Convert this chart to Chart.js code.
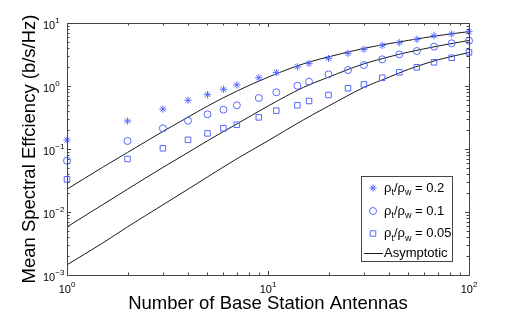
<!DOCTYPE html>
<html>
<head>
<meta charset="utf-8">
<script src="https://cdn.jsdelivr.net/npm/chart.js@4"></script>
<style>
  html, body { margin: 0; padding: 0; background: #fff; }
</style>
</head>
<body>
<canvas id="chart" width="518" height="314"></canvas>
<script>
// simulated points
const antennas = [1, 2, 3, 4, 5, 6, 7, 9, 11, 14, 16, 20, 25, 30, 37, 45, 55, 67, 82, 100];
const eff02  = [0.139, 0.278, 0.431, 0.593, 0.728, 0.886, 1.04, 1.35, 1.63, 2.02, 2.29, 2.75, 3.3, 3.82, 4.42, 4.87, 5.5, 6.28, 6.69, 7.28];
const eff01  = [0.0652, 0.134, 0.213, 0.281, 0.355, 0.421, 0.494, 0.645, 0.794, 1.01, 1.17, 1.53, 1.79, 2.15, 2.65, 3.18, 3.59, 4.21, 4.76, 5.24];
const eff005 = [0.033, 0.0694, 0.1026, 0.14, 0.177, 0.213, 0.243, 0.318, 0.406, 0.494, 0.578, 0.72, 0.92, 1.06, 1.35, 1.65, 1.98, 2.38, 2.81, 3.42];

// asymptotic curves
const asymX   = [1, 1.5, 2, 3, 4, 5, 7, 10, 15, 20, 30, 40, 50, 70, 100];
const asym02  = [0.023, 0.051, 0.088, 0.19, 0.32, 0.48, 0.83, 1.38, 2.25, 2.9, 3.95, 4.7, 5.3, 6.3, 7.3];
const asym01  = [0.0058, 0.013, 0.023, 0.051, 0.088, 0.135, 0.25, 0.48, 0.95, 1.38, 2.25, 2.9, 3.45, 4.3, 5.28];
const asym005 = [0.00145, 0.0032, 0.0058, 0.013, 0.023, 0.036, 0.07, 0.135, 0.29, 0.48, 0.95, 1.38, 1.84, 2.6, 3.4];

const ratios = ['0.2', '0.1', '0.05'];
const xTicks = [1, 10, 100];
const yTicks = [0.001, 0.01, 0.1, 1, 10];
const xTitle = 'Number of Base Station Antennas';
const yTitle = 'Mean Spectral Effciency (b/s/Hz)';

const blue = 'rgb(85,105,255)';
const FONT = '"Liberation Sans", Arial, Helvetica, sans-serif';

const pts = ys => antennas.map((x, i) => ({ x: x, y: ys[i] }));
const curve = ys => asymX.map((x, i) => ({ x: x, y: ys[i] }));

const markerSets = [
  { label: 'rho 0.2', data: pts(eff02), pointStyle: 'star', pointRadius: 3.6 },
  { label: 'rho 0.1', data: pts(eff01), pointStyle: 'circle', pointRadius: 3.5 },
  { label: 'rho 0.05', data: pts(eff005), pointStyle: 'rect', pointRadius: 3.9 }
].map(d => Object.assign(d, {
  borderColor: blue, backgroundColor: 'rgba(0,0,0,0)', borderWidth: 1,
  showLine: false, clip: false, pointHoverRadius: d.pointRadius
}));

const lineSets = [asym02, asym01, asym005].map(ys => ({
  label: 'Asymptotic',
  data: curve(ys),
  showLine: true,
  pointRadius: 0,
  borderColor: '#1a1a1a',
  borderWidth: 1,
  cubicInterpolationMode: 'monotone',
  fill: false,
  clip: false
}));

function powLabel(ctx, v, x, y, align) {
  const e = String(Math.round(Math.log10(v))).replace('-', '\u2212');
  ctx.font = '11px ' + FONT;
  const wb = ctx.measureText('10').width;
  ctx.font = '8px ' + FONT;
  const we = ctx.measureText(e).width;
  let x0 = align === 'center' ? x - (wb + we) / 2 : x;
  ctx.textAlign = 'left';
  ctx.textBaseline = 'alphabetic';
  ctx.font = '11px ' + FONT;
  ctx.fillText('10', x0, y);
  ctx.font = '8px ' + FONT;
  ctx.fillText(e, x0 + wb, y - 5.5);
}

const axesPlugin = {
  id: 'matlabAxes',
  afterDatasetsDraw(chart) {
    const { ctx, chartArea: a, scales } = chart;
    const sx = scales.x, sy = scales.y;
    ctx.save();
    ctx.strokeStyle = '#444';
    ctx.lineWidth = 1;
    ctx.strokeRect(a.left + 0.5, a.top + 0.5, a.right - a.left, a.bottom - a.top);

    ctx.beginPath();
    for (let d = 0; d < 2; d++) {
      for (let k = 1; k <= 9; k++) {
        const v = k * Math.pow(10, d);
        if (v <= 1 || v >= 100) continue;
        const px = Math.round(sx.getPixelForValue(v)) + 0.5;
        const len = k === 1 ? 4 : 2.5;
        ctx.moveTo(px, a.bottom); ctx.lineTo(px, a.bottom - len);
        ctx.moveTo(px, a.top); ctx.lineTo(px, a.top + len);
      }
    }
    for (let d = -3; d < 1; d++) {
      for (let k = 1; k <= 9; k++) {
        const v = k * Math.pow(10, d);
        if (v <= 0.001 || v >= 10) continue;
        const py = Math.round(sy.getPixelForValue(v)) + 0.5;
        const len = k === 1 ? 4 : 2.5;
        ctx.moveTo(a.left, py); ctx.lineTo(a.left + len, py);
        ctx.moveTo(a.right, py); ctx.lineTo(a.right - len, py);
      }
    }
    ctx.stroke();

    ctx.fillStyle = '#000';
    xTicks.forEach(v => powLabel(ctx, v, sx.getPixelForValue(v), a.bottom + 17.5, 'center'));
    yTicks.forEach(v => powLabel(ctx, v, a.left - 24, sy.getPixelForValue(v) + 5.5, 'left'));

    ctx.font = '18.5px ' + FONT;
    ctx.textAlign = 'center';
    ctx.textBaseline = 'alphabetic';
    ctx.fillText(xTitle, (a.left + a.right) / 2, 309);
    ctx.translate(34.5, (a.top + a.bottom) / 2);
    ctx.rotate(-Math.PI / 2);
    ctx.fillText(yTitle, 0, 0);
    ctx.restore();
  }
};

function legendMarker(ctx, style, r, x, y) {
  ctx.fillStyle = 'rgba(0,0,0,0)';
  ctx.strokeStyle = blue;
  ctx.lineWidth = 1;
  if (Chart.helpers && Chart.helpers.drawPoint) {
    Chart.helpers.drawPoint(ctx, { pointStyle: style, radius: r, borderWidth: 1, rotation: 0 }, x, y);
  }
}

function ratioText(ctx, value, x, y) {
  const parts = [['\u03c1', 13, 0], ['t', 9, 3.5], ['/\u03c1', 13, 0], ['w', 9, 3.5], [' = ' + value, 13, 0]];
  let cx = x;
  parts.forEach(p => {
    ctx.font = p[1] + 'px ' + FONT;
    ctx.fillText(p[0], cx, y + p[2]);
    cx += ctx.measureText(p[0]).width;
  });
}

const legendPlugin = {
  id: 'subLegend',
  afterDraw(chart) {
    const { ctx, chartArea: a } = chart;
    const right = a.right - 17, bottom = a.bottom - 14;
    const w = 91, h = 85;
    const left = right - w, top = bottom - h;
    ctx.save();
    ctx.fillStyle = '#fff';
    ctx.fillRect(left, top, w, h);
    ctx.strokeStyle = '#444';
    ctx.lineWidth = 1;
    ctx.strokeRect(left + 0.5, top + 0.5, w, h);

    const rowY = [12, 35, 57.5];
    markerSets.forEach((d, i) => {
      legendMarker(ctx, d.pointStyle, d.pointRadius, left + 12, top + rowY[i]);
      ctx.fillStyle = '#000';
      ctx.textAlign = 'left';
      ctx.textBaseline = 'alphabetic';
      ratioText(ctx, ratios[i], left + 23, top + rowY[i] + 3.5);
    });
    ctx.strokeStyle = '#1a1a1a';
    ctx.beginPath();
    ctx.moveTo(left + 3, top + 77.5);
    ctx.lineTo(left + 22, top + 77.5);
    ctx.stroke();
    ctx.fillStyle = '#000';
    ctx.font = '13px ' + FONT;
    ctx.fillText('Asymptotic', left + 23, top + 81);
    ctx.restore();
  }
};

new Chart(document.getElementById('chart'), {
  type: 'scatter',
  data: { datasets: markerSets.concat(lineSets) },
  options: {
    responsive: false,
    animation: false,
    layout: { padding: { left: 67, right: 49, top: 23, bottom: 39 } },
    plugins: { legend: { display: false }, tooltip: { enabled: false } },
    scales: {
      x: { type: 'logarithmic', min: 1, max: 100, display: false },
      y: { type: 'logarithmic', min: 0.001, max: 10, display: false }
    }
  },
  plugins: [axesPlugin, legendPlugin]
});
</script>
</body>
</html>
